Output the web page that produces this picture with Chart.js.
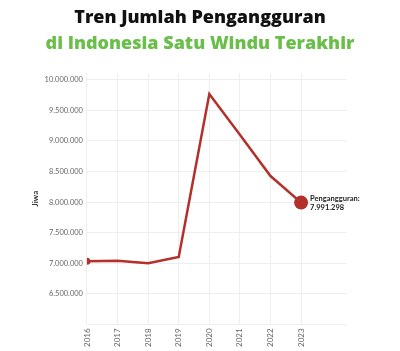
<!DOCTYPE html>
<html>
<head>
<meta charset="utf-8">
<script src="https://cdn.jsdelivr.net/npm/chart.js@4"></script>
<style>
  html, body { margin: 0; padding: 0; background: #fff; }
  #wrap { width: 400px; height: 351px; }
</style>
</head>
<body>
<div id="wrap"><canvas id="chart" width="400" height="351"></canvas></div>
<script>
(function () {
  // data
  var years = [2016, 2017, 2018, 2019, 2020, 2021, 2022, 2023];
  var unemployed = [7031775, 7040323, 7001461, 7104424, 9767754, 9102052, 8425931, 7991298];
  var yTicks = [6000000, 6500000, 7000000, 7500000, 8000000, 8500000, 9000000, 9500000, 10000000];

  var RED = "#b3302b";

  function fmt(v) {
    return String(v).replace(/\B(?=(\d{3})+(?!\d))/g, ".");
  }

  // two-colour heading, centred on the whole canvas
  var heading = {
    id: "heading",
    afterDraw: function (chart) {
      var ctx = chart.ctx;
      ctx.save();
      ctx.textAlign = "center";
      ctx.textBaseline = "middle";
      ctx.font = "800 18px 'Open Sans', sans-serif";
      ctx.fillStyle = "#111";
      ctx.fillText("Tren Jumlah Pengangguran", 200, 18);
      ctx.fillStyle = "#6abf4b";
      ctx.fillText("di Indonesia Satu Windu Terakhir", 200, 44);
      ctx.restore();
    },
  };

  // label next to the last point
  var lastLabel = {
    id: "lastLabel",
    afterDatasetsDraw: function (chart) {
      var meta = chart.getDatasetMeta(0);
      var pt = meta.data[meta.data.length - 1];
      var ctx = chart.ctx;
      ctx.save();
      ctx.fillStyle = "#222";
      ctx.font = "bold 7.5px Lato, sans-serif";
      ctx.textBaseline = "middle";
      ctx.fillText("Pengangguran:", pt.x + 9, pt.y - 4);
      ctx.fillText(fmt(unemployed[unemployed.length - 1]), pt.x + 9, pt.y + 5);
      ctx.restore();
    },
  };

  var points = years.map(function (y, i) {
    return { x: y, y: unemployed[i] };
  });

  new Chart(document.getElementById("chart"), {
    type: "line",
    data: {
      datasets: [
        {
          data: points,
          borderColor: RED,
          backgroundColor: RED,
          borderWidth: 2.5,
          tension: 0,
          pointRadius: points.map(function (p, i) {
            if (i === 0) return 3.5;
            if (i === points.length - 1) return 7;
            return 0;
          }),
          pointBorderWidth: 0,
        },
      ],
    },
    options: {
      responsive: false,
      animation: false,
      layout: { padding: { left: 28, right: 53, top: 73, bottom: 0 } },
      plugins: {
        legend: { display: false },
        tooltip: { enabled: false },
      },
      scales: {
        x: {
          type: "linear",
          min: 2016,
          max: 2024.5,
          afterBuildTicks: function (axis) {
            axis.ticks = years.map(function (y) {
              return { value: y };
            });
          },
          ticks: {
            minRotation: 90,
            maxRotation: 90,
            color: "#666",
            font: { family: "Lato", size: 8 },
            padding: 4,
            callback: function (v) {
              return String(v);
            },
          },
          grid: { color: "#eeeeee", drawTicks: false },
          border: { display: false },
        },
        y: {
          min: 6000000,
          max: 10110000,
          afterBuildTicks: function (axis) {
            axis.ticks = yTicks.map(function (v) {
              return { value: v };
            });
          },
          ticks: {
            color: "#666",
            font: { family: "Lato", size: 7.5 },
            padding: 4,
            callback: function (v) {
              return v === 6000000 ? "" : fmt(v);
            },
          },
          grid: { color: "#eeeeee", drawTicks: false },
          border: { display: false },
          title: {
            display: true,
            text: "Jiwa",
            color: "#333",
            font: { family: "Lato", size: 8, weight: "bold" },
            padding: { top: 3, bottom: 0 },
          },
        },
      },
    },
    plugins: [lastLabel, heading],
  });
})();
</script>
</body>
</html>
